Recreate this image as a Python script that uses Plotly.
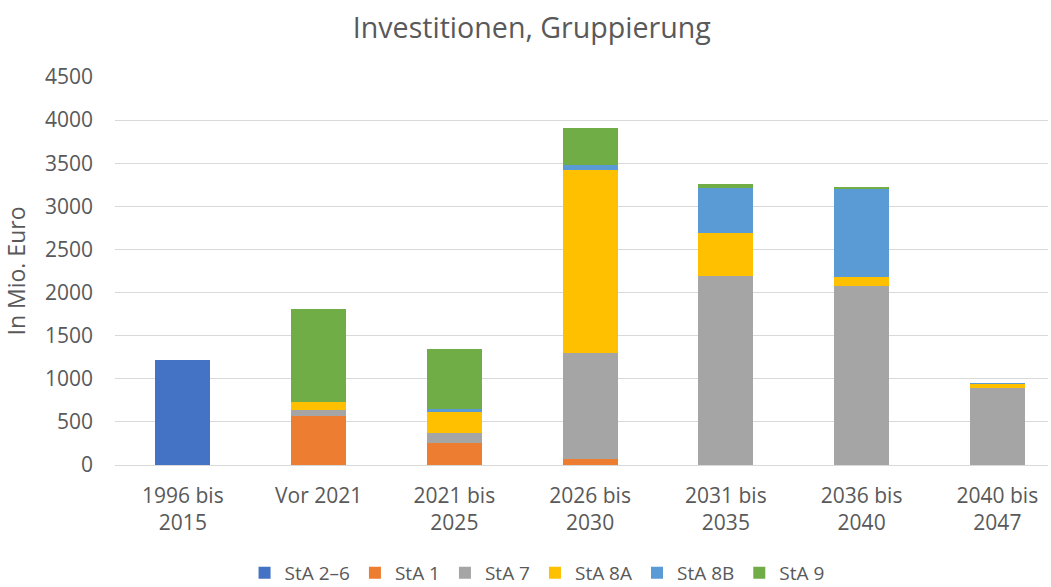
import plotly.graph_objects as go

categories = ["1996 bis<br>2015", "Vor 2021", "2021 bis<br>2025", "2026 bis<br>2030",
              "2031 bis<br>2035", "2036 bis<br>2040", "2040 bis<br>2047"]

sta_2_6 = [1220, 0, 0, 0, 0, 0, 0]
sta_1 = [0, 572, 259, 66, 0, 0, 0]
sta_7 = [0, 66, 109, 1230, 2193, 2080, 893]
sta_8a = [0, 96, 243, 2126, 498, 97, 47]
sta_8b = [0, 0, 42, 58, 519, 1033, 11]
sta_9 = [0, 1072, 689, 433, 54, 12, 0]

series = [
    ("StA 2–6", sta_2_6, "#4472C4"),
    ("StA 1", sta_1, "#ED7D31"),
    ("StA 7", sta_7, "#A5A5A5"),
    ("StA 8A", sta_8a, "#FFC000"),
    ("StA 8B", sta_8b, "#5B9BD5"),
    ("StA 9", sta_9, "#70AD47"),
]

FONT = "Open Sans"
GREY = "#595959"

fig = go.Figure()
xs = list(range(len(categories)))
for name, vals, col in series:
    fig.add_trace(go.Bar(x=xs, y=vals, name=name, marker=dict(color=col, line=dict(width=0)),
                         width=0.405))

fig.update_layout(
    barmode="stack",
    width=1051, height=587,
    margin=dict(l=115, r=3, t=77, b=122, autoexpand=False),
    paper_bgcolor="white", plot_bgcolor="white",
    font=dict(family=FONT, color=GREY, size=21),
    title=dict(text="Investitionen, Gruppierung", xref="container", x=0.506, xanchor="center",
               yref="container", y=0.952, yanchor="middle",
               font=dict(family=FONT, size=28.6, color=GREY)),
    legend=dict(orientation="h", xref="container", x=0.511, xanchor="center",
                yref="container", y=0.024, yanchor="middle",
                font=dict(family=FONT, size=19, color=GREY), traceorder="normal",
                itemwidth=30),
    bargap=0,
)
fig.update_xaxes(tickmode="array", tickvals=xs, ticktext=categories, range=[-0.5, 6.373],
                 showgrid=False, showline=False, zeroline=False, ticks="",
                 ticklabelstandoff=16,
                 tickfont=dict(family=FONT, size=21, color=GREY))
fig.update_yaxes(range=[0, 4500], dtick=500, showgrid=True, gridcolor="#D9D9D9", gridwidth=1,
                 zeroline=True, zerolinecolor="#D9D9D9", zerolinewidth=1, showline=False,
                 ticks="", ticklabelstandoff=21,
                 title=dict(text="In Mio. Euro", font=dict(family=FONT, size=23, color=GREY), standoff=14),
                 tickfont=dict(family=FONT, size=21, color=GREY))

fig.write_html("out.html", config={"displayModeBar": False},
               post_script="document.body.style.margin='0';document.body.style.padding='0';"
                           "document.documentElement.style.overflow='hidden';")
